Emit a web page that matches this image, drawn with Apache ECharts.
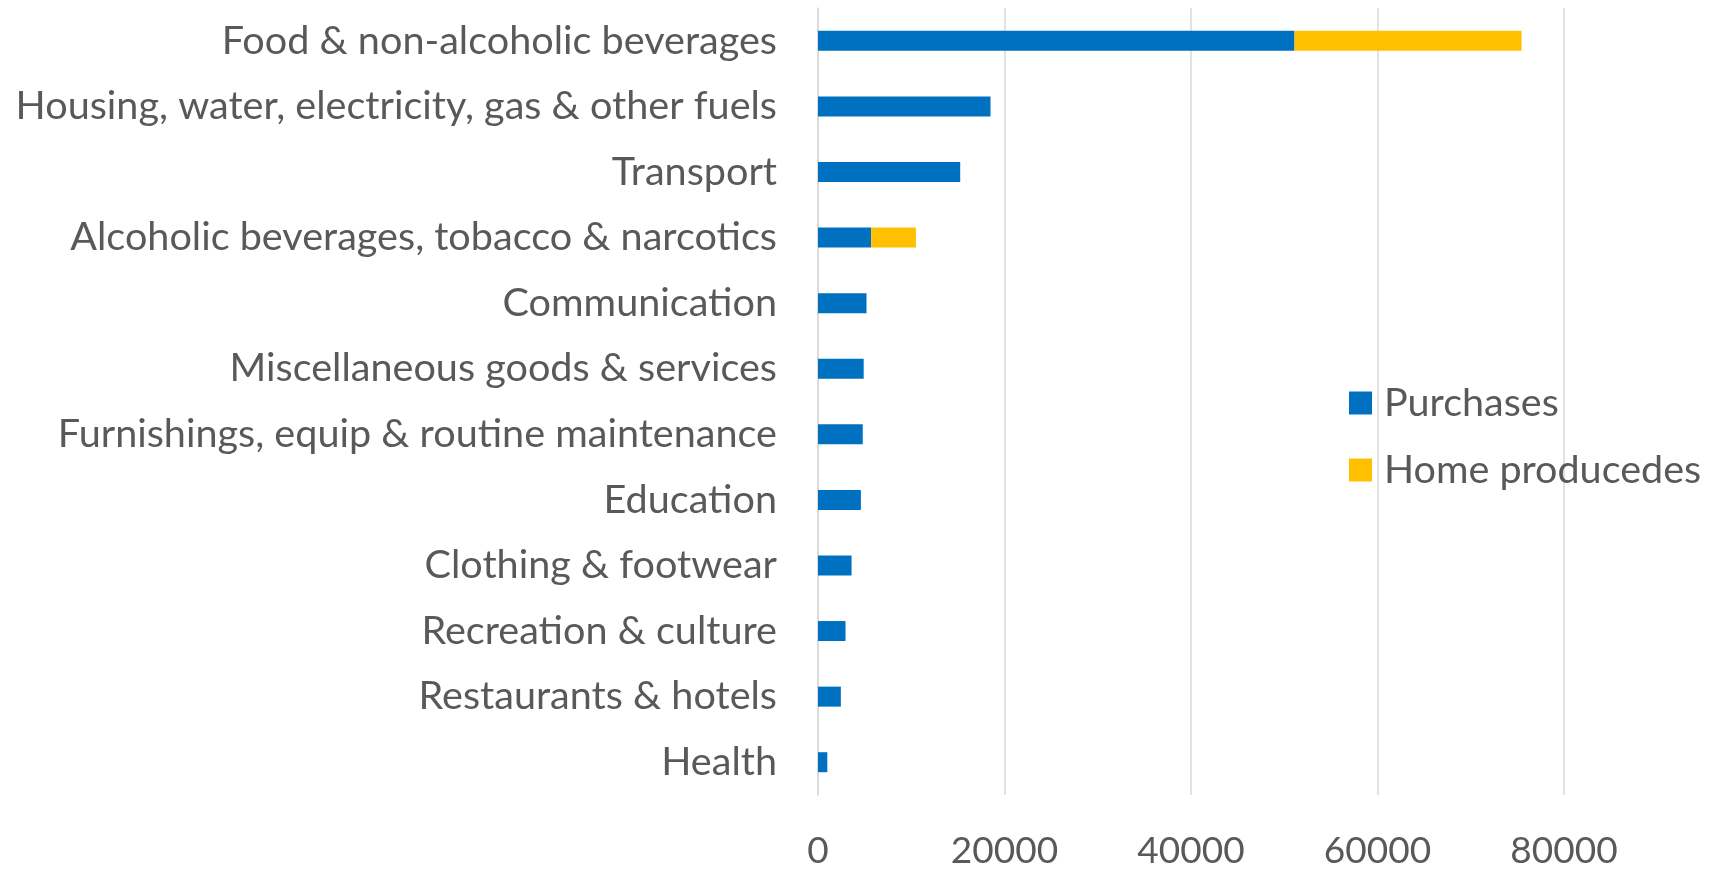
<!DOCTYPE html>
<html>
<head>
<meta charset="utf-8">
<script src="https://cdn.jsdelivr.net/npm/echarts@6/dist/echarts.min.js"></script>
<style>
  html, body { margin: 0; padding: 0; background: #ffffff; }
  #chart { width: 1719px; height: 870px; }
</style>
</head>
<body>
<div id="chart"></div>
<script>
// Household expenditure by category, split into purchased and home-produced parts
const categories = [
  'Food & non-alcoholic beverages',
  'Housing, water, electricity, gas & other fuels',
  'Transport',
  'Alcoholic beverages, tobacco & narcotics',
  'Communication',
  'Miscellaneous goods & services',
  'Furnishings, equip & routine maintenance',
  'Education',
  'Clothing & footwear',
  'Recreation & culture',
  'Restaurants & hotels',
  'Health'
];
const purchases = [51100, 18500, 15250, 5700, 5200, 4900, 4800, 4600, 3600, 2950, 2450, 1000];
const homeProduced = [24350, null, null, 4800, null, null, null, null, null, null, null, null];
const seriesNames = ['Purchases', 'Home producedes'];
const xTicks = { min: 0, max: 80000, interval: 20000 };

const textColor = '#595959';
const gridColor = '#d9d9d9';
const fontFamily = 'Lato, "Open Sans", sans-serif';

const chart = echarts.init(document.getElementById('chart'), null, { renderer: 'canvas' });
chart.setOption({
  backgroundColor: '#ffffff',
  animation: false,
  grid: { left: 818, right: 155, top: 8, bottom: 75, containLabel: false },
  legend: {
    orient: 'vertical',
    left: 1349,
    top: 383,
    padding: 0,
    icon: 'rect',
    itemWidth: 23,
    itemHeight: 23,
    itemGap: 27,
    data: seriesNames,
    textStyle: {
      color: textColor,
      fontFamily: fontFamily,
      fontSize: 39.5,
      lineHeight: 40,
      padding: [0, 0, 0, 7]
    }
  },
  xAxis: {
    type: 'value',
    min: xTicks.min,
    max: xTicks.max,
    interval: xTicks.interval,
    axisLine: { show: false },
    axisTick: { show: false },
    splitLine: { show: true, lineStyle: { color: gridColor, width: 1.5 } },
    axisLabel: {
      color: textColor,
      fontFamily: fontFamily,
      fontSize: 37,
      margin: 38,
      formatter: (v) => String(v)
    }
  },
  yAxis: {
    type: 'category',
    inverse: true,
    data: categories,
    axisLine: { show: true, lineStyle: { color: gridColor, width: 1.5 } },
    axisTick: { show: false },
    axisLabel: {
      color: textColor,
      fontFamily: fontFamily,
      fontSize: 39.6,
      margin: 41
    }
  },
  series: [
    {
      name: seriesNames[0],
      type: 'bar',
      stack: 'total',
      barWidth: 20,
      itemStyle: { color: '#0070c0' },
      data: purchases
    },
    {
      name: seriesNames[1],
      type: 'bar',
      stack: 'total',
      barWidth: 20,
      itemStyle: { color: '#ffc000' },
      data: homeProduced
    }
  ]
});
</script>
</body>
</html>
